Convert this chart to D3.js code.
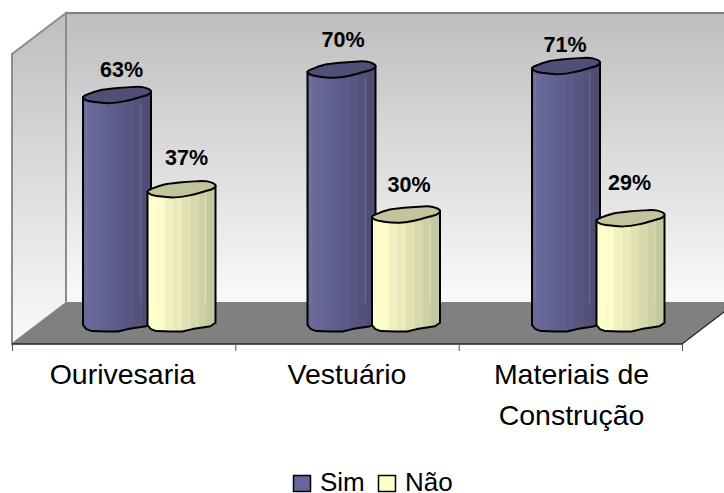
<!DOCTYPE html>
<html>
<head>
<meta charset="utf-8">
<script src="https://cdn.jsdelivr.net/npm/d3@7/dist/d3.min.js"></script>
<style>
html,body{margin:0;padding:0;background:#fff;overflow:hidden}
svg{display:block}
text{font-family:"Liberation Sans",Arial,sans-serif;fill:#000}
</style>
</head>
<body>
<svg id="chart" width="724" height="493"></svg>
<script>
// Chart values
const categories = [["Ourivesaria"], ["Vestuário"], ["Materiais de", "Construção"]];
const seriesNames = ["Sim", "Não"];
const sim = [63, 70, 71];
const nao = [37, 30, 29];

// Fine placement of the value labels: [dx, baseline above the cylinder's top]
const simLabelNudge = [[4.5, 18], [1.5, 22.5], [-1, 14]];
const naoLabelNudge = [[5, 24], [3, 22.5], [-1, 28]];

// Cylinder outline: irregular rims in units of the radii
const topRim = [[-1,.25],[-.85,-.12],[-.5,-.62],[-.06,-.87],[.38,-1],[.76,-1],[1,-.5],[.94,-.12],[.68,.25],[.24,.75],[-.2,1],[-.65,.87],[-.91,.62]];
const bottomRim = [[-.9,.7],[-.74,.95],[-.3,1],[.03,1],[.32,.7],[.85,.35],[1,-.1]];

// Vertical colour bands of each cylinder
const simBands = ["#69699c","#666699","#626293","#5e5e8d","#5a5a87","#565681","#52527b","#4e4e75"];
const naoBands = ["#ffffcc","#fcfcc9","#f2f2c1","#eaeabb","#e0e0b3","#d8d8ac","#cfcfa6","#c6c69f"];
const simTop = "#4f4f77", naoTop = "#c4c49c";

const svg = d3.select("#chart");
const defs = svg.append("defs");

// Frame of the 3D box
const front = {x0: 12, x1: 682, y0: 344, y1: 54};
const depth = {dx: 54, dy: -41};
const x = d3.scaleBand().domain(d3.range(categories.length)).range([front.x0, front.x1]);
const barX = d3.scaleBand().domain(d3.range(categories.length)).range([83, 756.5]);
const y = d3.scaleLinear().domain([0, 80]).range([323.5, 33.5]);
const barW = 68, barStep = 64.5, ry = 8;

const wallGrad = defs.append("linearGradient").attr("id","wall").attr("x1",0).attr("x2",0).attr("y1",0).attr("y2",1);
wallGrad.append("stop").attr("offset",0).attr("stop-color","#bebebe");
wallGrad.append("stop").attr("offset",1).attr("stop-color","#fafafa");

const pts = p => p.map(d => d.join(",")).join(" ");
const bx0 = front.x0 + depth.dx, by1 = front.y1 + depth.dy, by0 = front.y0 + depth.dy, bx1 = front.x1 + depth.dx;

// Back wall and side wall
svg.append("polygon").attr("points", pts([[bx0,by1],[bx1,by1],[bx1,by0],[bx0,by0]]))
  .attr("fill","url(#wall)").attr("stroke","#808080").attr("stroke-width",2);
svg.append("polygon").attr("points", pts([[front.x0,front.y1],[bx0,by1],[bx0,by0],[front.x0,front.y0]]))
  .attr("fill","url(#wall)").attr("stroke","#8c8c8c").attr("stroke-width",2);

// Floor
svg.append("polygon").attr("points", pts([[front.x0,front.y0],[bx0,by0],[bx1,by0],[front.x1,front.y0]]))
  .attr("fill","#808080");
svg.append("line").attr("x1",front.x1).attr("y1",front.y0).attr("x2",bx1).attr("y2",by0)
  .attr("stroke","#222").attr("stroke-width",1.2);
svg.append("line").attr("x1",front.x0).attr("y1",front.y0).attr("x2",front.x1).attr("y2",front.y0)
  .attr("stroke","#222").attr("stroke-width",1.5);

// Category ticks
const tickXs = d3.range(categories.length).map(i => x(i)).concat(front.x1);
svg.selectAll(".tick").data(tickXs).join("line").attr("class","tick")
  .attr("x1",d=>d+.5).attr("x2",d=>d+.5).attr("y1",front.y0).attr("y2",front.y0+7)
  .attr("stroke","#555").attr("stroke-width",1);

function bandGradient(id, bands){
  const g = defs.append("linearGradient").attr("id",id).attr("x1",0).attr("x2",1).attr("y1",0).attr("y2",0);
  bands.forEach((c,k)=>{
    g.append("stop").attr("offset",k/bands.length).attr("stop-color",c);
    g.append("stop").attr("offset",(k+1)/bands.length).attr("stop-color",c);
  });
}
bandGradient("simBody", simBands);
bandGradient("naoBody", naoBands);

const closedCurve = d3.line().curve(d3.curveCatmullRomClosed.alpha(.5));
const rx = barW/2;

function cylinder(cx, value, bodyId, topColor, highlight){
  const yt = y(value), yb = y(0);
  const g = svg.append("g");
  const start = [cx - rx, yt + topRim[0][1]*ry];
  const end = [cx + rx, yt + topRim[6][1]*ry];
  const bottom = bottomRim.map(([u,v]) => [cx+u*rx, yb+v*ry]);
  const body = [start, [cx-rx, yb+.2*ry], ...bottom, [cx+rx, yb-.1*ry], end];
  g.append("path").attr("d", d3.line()(body)+"Z").attr("fill",`url(#${bodyId})`)
    .attr("stroke","#000").attr("stroke-width",2).attr("stroke-linejoin","round");
  // thin reflections running down the body, stopping at the floor's back edge
  [.05, .85].forEach(f=>{
    g.append("line").attr("x1",cx-rx+f*barW).attr("x2",cx-rx+f*barW)
      .attr("y1",yt+ry).attr("y2",by0).attr("stroke",highlight)
      .attr("stroke-width",.8).attr("stroke-opacity",.6);
  });
  g.append("path").attr("d", closedCurve(topRim.map(([u,v])=>[cx+u*rx, yt+v*ry])))
    .attr("fill",topColor).attr("stroke","#000").attr("stroke-width",2);
}

const seriesDefs = [
  {values: sim, body:"simBody", top:simTop, hi:"#8a8ab0", nudge:simLabelNudge, off:0},
  {values: nao, body:"naoBody", top:naoTop, hi:"#f0f0d0", nudge:naoLabelNudge, off:barStep}
];

categories.forEach((_, i) => {
  seriesDefs.forEach(s => cylinder(barX(i)+s.off+rx, s.values[i], s.body, s.top, s.hi));
});

// Value labels
seriesDefs.forEach(s => {
  s.values.forEach((v,i) => {
    svg.append("text").attr("text-anchor","middle")
      .attr("x", barX(i)+s.off+rx+s.nudge[i][0])
      .attr("y", y(v)-s.nudge[i][1])
      .attr("font-size",21.5).attr("font-weight","bold").text(v+"%");
  });
});

// Category labels, centred under each group of cylinders
categories.forEach((lines,i) => {
  lines.forEach((t,k) => {
    svg.append("text").attr("text-anchor","middle")
      .attr("x", barX(i)+39.5).attr("y", 384+k*41)
      .attr("font-size",28.5).text(t);
  });
});

// Legend
const legendColors = ["#666699","#ffffcc"];
const legendX = [293.5, 378.5], legendTextX = [320, 405];
seriesNames.forEach((name,i) => {
  svg.append("rect").attr("x",legendX[i]).attr("y",475.5).attr("width",17).attr("height",16)
    .attr("fill",legendColors[i]).attr("stroke","#000").attr("stroke-width",1.5);
  svg.append("text").attr("x",legendTextX[i]).attr("y",491).attr("font-size",26).text(name);
});
</script>
</body>
</html>
